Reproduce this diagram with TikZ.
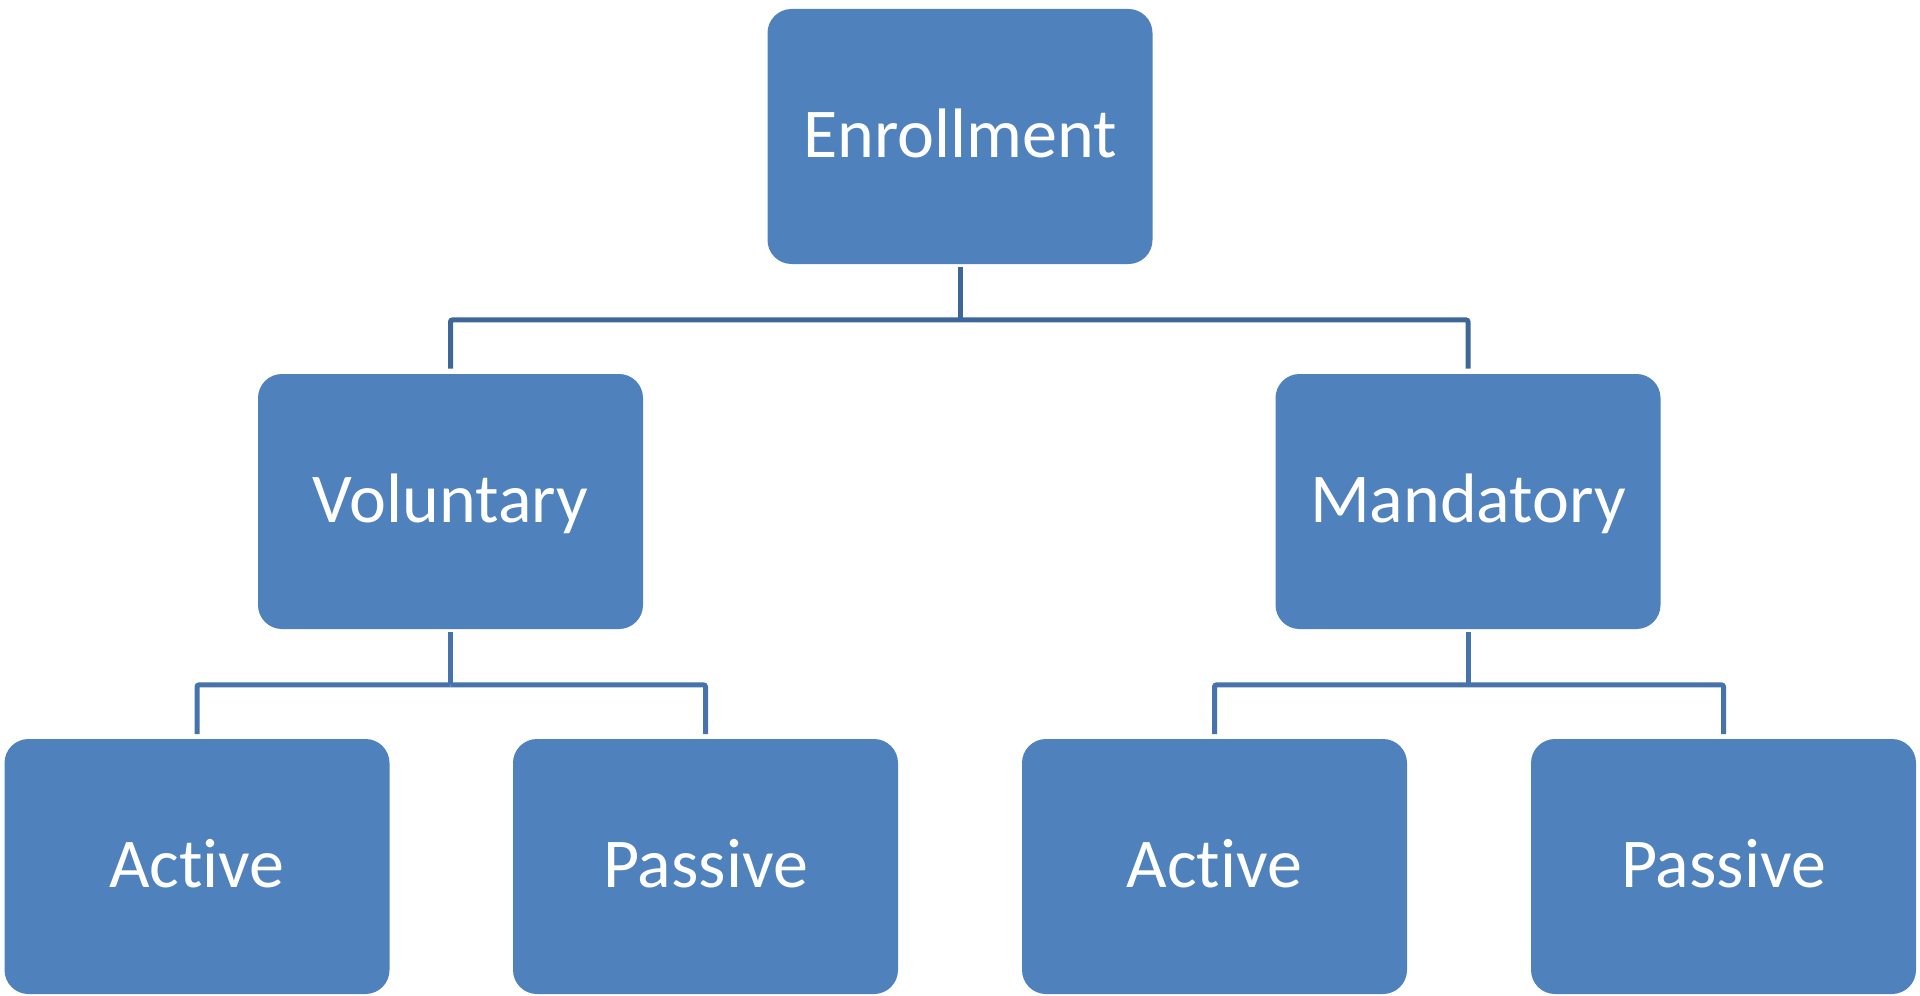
\documentclass[tikz,border=0pt]{standalone}
\usepackage{fontspec}
\setmainfont[Ligatures={NoCommon}]{Carlito}
\usetikzlibrary{positioning}
\definecolor{boxblue}{HTML}{4F81BD}
\definecolor{lineA}{HTML}{3D6798}
\definecolor{lineB}{HTML}{4673AB}
\tikzset{
  orgbox/.style={fill=boxblue, draw=none, rounded corners=12pt,
    minimum width=192.5pt, minimum height=127.5pt, inner sep=0pt,
    text=white, font=\fontsize{35}{40}\selectfont,
    text height=20.5pt, text depth=0pt},
  connA/.style={draw=lineA, line width=2.5pt, rounded corners=1pt},
  connB/.style={draw=lineB, line width=2.5pt, rounded corners=1pt}
}
\begin{document}
\begin{tikzpicture}[x=0.5pt, y=-0.5pt]
\useasboundingbox (0,0) rectangle (1920,995);
\node[orgbox] (E) at (960,136.5) {Enrollment};
\node[orgbox] (V) at (450.5,501.5) {Voluntary};
\node[orgbox] (M) at (1468,501.5) {Mandatory};
\node[orgbox] (A1) at (197,866.5) {Active};
\node[orgbox] (P1) at (705.5,866.5) {Passive};
\node[orgbox] (A2) at (1214.5,866.5) {Active};
\node[orgbox] (P2) at (1723.5,866.5) {Passive};
% top level connectors
\coordinate (jE) at ([yshift=-27.75pt]E.south);
\draw[connA] ([yshift=-1.5pt]E.south) -- (jE);
\draw[connA] (jE) -| ([yshift=2.5pt]V.north);
\draw[connA] (jE) -| ([yshift=2.5pt]M.north);
% left subtree
\coordinate (jV) at ([yshift=-27.75pt]V.south);
\draw[connB] ([yshift=-1.5pt]V.south) -- (jV);
\draw[connB] (jV) -| ([yshift=2.25pt]A1.north);
\draw[connB] (jV) -| ([yshift=2.25pt]P1.north);
% right subtree
\coordinate (jM) at ([yshift=-27.75pt]M.south);
\draw[connB] ([yshift=-1.5pt]M.south) -- (jM);
\draw[connB] (jM) -| ([yshift=2.25pt]A2.north);
\draw[connB] (jM) -| ([yshift=2.25pt]P2.north);
\end{tikzpicture}
\end{document}
